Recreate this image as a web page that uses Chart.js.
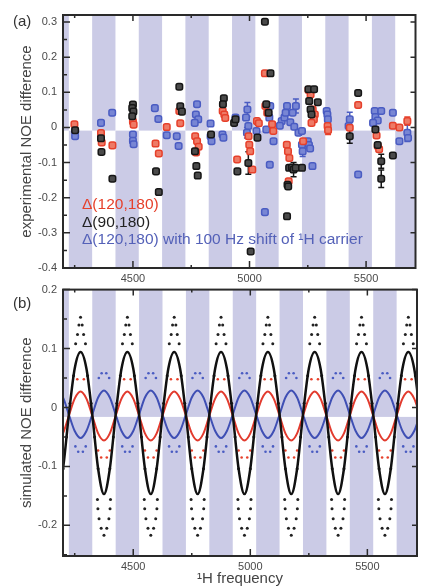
<!DOCTYPE html>
<html>
<head>
<meta charset="utf-8">
<script src="https://cdn.jsdelivr.net/npm/chart.js@4.4.0/dist/chart.umd.min.js"></script>
<style>
  body { margin: 0; background: #fff; width: 421px; height: 588px; position: relative; overflow: hidden;
         font-family: "Liberation Sans", Arial, sans-serif; }
  canvas { position: absolute; left: 0; }
  #chartA { top: 0; }
  #chartB { top: 277px; }
  .lbl { position: absolute; font-size: 15px; white-space: nowrap; line-height: 17px; }
</style>
</head>
<body>
<canvas id="chartA" width="421" height="290" style="width:421px;height:290px"></canvas>
<canvas id="chartB" width="421" height="311" style="width:421px;height:311px"></canvas>
<div class="lbl" style="left:13px;top:12px;color:#333">(a)</div>
<div class="lbl" style="left:13px;top:294px;color:#333">(b)</div>
<div class="lbl" style="left:82px;top:195px;color:#e6402b;font-size:15.5px">Δ(120,180)</div>
<div class="lbl" style="left:82px;top:213px;color:#222;font-size:15.5px">Δ(90,180)</div>
<div class="lbl" style="left:82px;top:230px;color:#5461b8;font-size:15.5px">Δ(120,180) with 100 Hz shift of ¹H carrier</div>
<script>
// shaded bands (Hz), upper half / lower half of each panel
const bandUpper = [4125, 4325, 4525, 4725, 4925, 5125, 5325, 5525]
const bandLower = [4225, 4425, 4625, 4825, 5025, 5225, 5425, 5625]
const bandWidth = 100

const xTicks = [4500, 5000, 5500]
const yTicksA = [0.3, 0.2, 0.1, 0, -0.1, -0.2, -0.3, -0.4]
const yTicksB = [0.2, 0.1, 0, -0.1, -0.2]

// panel (a): [frequency, NOE difference, error]
const expRed = [
  [4249, 0.009, 0], [4363, -0.016, 0], [4366, -0.043, 0], [4412, -0.051, 0], [4500, 0.017, 0],
  [4503, 0.008, 0], [4597, -0.046, 0], [4611, -0.074, 0], [4645, 0.001, 0], [4699, 0.047, 0],
  [4703, 0.012, 0], [4767, -0.025, 0], [4775, -0.039, 0], [4782, -0.055, 0], [4771, -0.071, 0],
  [4885, 0.047, 0], [4892, 0.037, 0], [4896, 0.027, 0], [4947, -0.091, 0], [4996, -0.025, 0],
  [4999, -0.049, 0], [5003, -0.068, 0], [5012, -0.12, 0], [5032, 0.018, 0], [5040, 0.012, 0],
  [5066, 0.154, 0], [5068, 0.061, 0], [5076, 0.042, 0], [5097, 0.009, 0], [5102, -0.01, 0],
  [5160, -0.049, 0], [5165, -0.068, 0], [5171, -0.087, 0], [5168, -0.153, 0], [5230, -0.039, 0],
  [5253, 0.107, 0], [5262, 0.094, 0], [5271, 0.051, 0], [5280, 0.037, 0], [5276, 0.023, 0],
  [5266, 0.013, 0], [5335, 0.004, 0], [5337, -0.008, 0.012], [5430, -0.001, 0], [5466, 0.064, 0],
  [5545, -0.023, 0], [5550, -0.053, 0], [5556, -0.062, 0], [5615, 0.005, 0], [5643, 0.0, 0],
  [5677, 0.018, 0.012]
]
const expBlack = [
  [4252, -0.008, 0], [4363, -0.031, 0], [4365, -0.07, 0], [4412, -0.146, 0], [4500, 0.065, 0],
  [4497, 0.055, 0], [4502, 0.045, 0], [4497, 0.032, 0], [4599, -0.125, 0], [4611, -0.184, 0],
  [4699, 0.116, 0], [4703, 0.06, 0], [4710, 0.045, 0], [4766, -0.068, 0], [4772, -0.11, 0],
  [4778, -0.137, 0], [4890, 0.083, 0], [4886, 0.066, 0], [4835, -0.02, 0], [4934, 0.013, 0],
  [4940, 0.023, 0], [4948, -0.125, 0], [4995, -0.101, 0.032], [5005, -0.353, 0], [5034, -0.029, 0],
  [5066, 0.301, 0], [5090, 0.154, 0], [5072, 0.066, 0], [5082, 0.042, 0], [5161, -0.253, 0],
  [5163, -0.163, 0], [5170, -0.115, 0], [5166, -0.168, 0], [5182, -0.114, 0], [5189, -0.12, 0.02],
  [5198, -0.115, 0], [5225, -0.115, 0], [5253, 0.109, 0], [5277, 0.109, 0], [5256, 0.075, 0],
  [5293, 0.072, 0], [5262, 0.051, 0], [5266, 0.037, 0], [5430, -0.025, 0.02], [5466, 0.098, 0],
  [5540, -0.006, 0], [5550, -0.05, 0], [5565, -0.096, 0.02], [5565, -0.146, 0.025], [5615, -0.08, 0]
]
const expBlue = [
  [4252, -0.011, 0], [4252, -0.025, 0], [4363, 0.013, 0], [4411, 0.042, 0], [4500, -0.02, 0],
  [4500, -0.038, 0], [4503, -0.048, 0], [4594, 0.055, 0], [4609, 0.024, 0], [4645, -0.022, 0],
  [4688, -0.025, 0], [4696, -0.053, 0], [4775, 0.066, 0], [4770, 0.037, 0], [4780, 0.023, 0],
  [4765, 0.013, 0], [4833, 0.011, 0], [4833, -0.025, 0], [4837, -0.039, 0], [4884, -0.02, 0],
  [4888, -0.029, 0], [4940, 0.028, 0], [4991, 0.051, 0.02], [4985, 0.028, 0], [4995, 0.004, 0],
  [4989, -0.015, 0.015], [5030, -0.01, 0], [5066, -0.241, 0], [5072, -0.006, 0], [5087, -0.106, 0],
  [5089, 0.061, 0], [5080, 0.042, 0], [5085, 0.028, 0], [5103, -0.039, 0], [5138, 0.018, 0],
  [5130, 0.005, 0], [5150, 0.028, 0], [5161, 0.061, 0], [5155, 0.042, 0], [5175, 0.015, 0],
  [5185, 0.042, 0], [5192, 0.002, 0], [5199, 0.061, 0.02], [5210, -0.015, 0], [5225, -0.01, 0],
  [5225, -0.049, 0], [5228, -0.068, 0.015], [5250, -0.039, 0], [5255, -0.05, 0], [5260, -0.06, 0],
  [5270, -0.11, 0], [5331, 0.047, 0], [5334, 0.037, 0], [5336, 0.023, 0], [5430, 0.023, 0.02],
  [5425, 0.004, 0], [5466, -0.134, 0], [5537, 0.047, 0], [5565, 0.047, 0], [5615, 0.042, 0],
  [5540, 0.03, 0], [5550, 0.02, 0], [5530, 0.013, 0], [5643, -0.039, 0], [5677, -0.015, 0.025],
  [5680, -0.03, 0]
]

// panel (b): simulated curves
const simX = [4175, 4200, 4225, 4250, 4275, 4300, 4325, 4350, 4375, 4400, 4425, 4450, 4475, 4500, 4525, 4550,
  4575, 4600, 4625, 4650, 4675, 4700, 4725, 4750, 4775, 4800, 4825, 4850, 4875, 4900, 4925, 4950,
  4975, 5000, 5025, 5050, 5075, 5100, 5125, 5150, 5175, 5200, 5225, 5250, 5275, 5300, 5325, 5350,
  5375, 5400, 5425, 5450, 5475, 5500, 5525, 5550, 5575, 5600, 5625, 5650, 5675, 5700, 5725]
const simBlack = [-0.147, -0.104, -0.012, 0.066, 0.094, 0.066, -0.012, -0.104,
  -0.147, -0.104, -0.012, 0.066, 0.094, 0.066, -0.012, -0.104,
  -0.147, -0.104, -0.012, 0.066, 0.094, 0.066, -0.012, -0.104,
  -0.147, -0.104, -0.012, 0.066, 0.094, 0.066, -0.012, -0.104,
  -0.147, -0.104, -0.012, 0.066, 0.094, 0.066, -0.012, -0.104,
  -0.147, -0.104, -0.012, 0.066, 0.094, 0.066, -0.012, -0.104,
  -0.147, -0.104, -0.012, 0.066, 0.094, 0.066, -0.012, -0.104,
  -0.147, -0.104, -0.012, 0.066, 0.094, 0.066, -0.012]
const simRed = [-0.056, -0.044, -0.014, 0.015, 0.027, 0.015, -0.014, -0.044,
  -0.056, -0.044, -0.014, 0.015, 0.027, 0.015, -0.014, -0.044,
  -0.056, -0.044, -0.014, 0.015, 0.027, 0.015, -0.014, -0.044,
  -0.056, -0.044, -0.014, 0.015, 0.027, 0.015, -0.014, -0.044,
  -0.056, -0.044, -0.014, 0.015, 0.027, 0.015, -0.014, -0.044,
  -0.056, -0.044, -0.014, 0.015, 0.027, 0.015, -0.014, -0.044,
  -0.056, -0.044, -0.014, 0.015, 0.027, 0.015, -0.014, -0.044,
  -0.056, -0.044, -0.014, 0.015, 0.027, 0.015, -0.014]
const simBlue = [0.029, 0.017, -0.012, -0.04, -0.052, -0.04, -0.012, 0.017,
  0.029, 0.017, -0.012, -0.04, -0.052, -0.04, -0.012, 0.017,
  0.029, 0.017, -0.012, -0.04, -0.052, -0.04, -0.012, 0.017,
  0.029, 0.017, -0.012, -0.04, -0.052, -0.04, -0.012, 0.017,
  0.029, 0.017, -0.012, -0.04, -0.052, -0.04, -0.012, 0.017,
  0.029, 0.017, -0.012, -0.04, -0.052, -0.04, -0.012, 0.017,
  0.029, 0.017, -0.012, -0.04, -0.052, -0.04, -0.012, 0.017,
  0.029, 0.017, -0.012, -0.04, -0.052, -0.04, -0.012]

// panel (b): simulated per-residue dots [frequency, value]
const simBlackDots = [
  [4275, .153], [4268, .14], [4282, .14], [4262, .124], [4288, .124], [4254, .108], [4296, .108],
  [4245, .054], [4305, .054], [4230, .007], [4320, .007], [4215, -.05], [4335, -.05], [4200, -.104], [4350, -.104],
  [4375, -.217], [4363, -.205], [4387, -.205], [4354, -.189], [4396, -.189], [4349, -.172], [4401, -.172], [4347, -.156], [4403, -.156],
  [4475, .153], [4468, .14], [4482, .14], [4462, .124], [4488, .124], [4454, .108], [4496, .108],
  [4445, .054], [4505, .054], [4430, .007], [4520, .007], [4415, -.05], [4535, -.05], [4400, -.104], [4550, -.104],
  [4575, -.217], [4563, -.205], [4587, -.205], [4554, -.189], [4596, -.189], [4549, -.172], [4601, -.172], [4547, -.156], [4603, -.156],
  [4675, .153], [4668, .14], [4682, .14], [4662, .124], [4688, .124], [4654, .108], [4696, .108],
  [4645, .054], [4705, .054], [4630, .007], [4720, .007], [4615, -.05], [4735, -.05], [4600, -.104], [4750, -.104],
  [4775, -.217], [4763, -.205], [4787, -.205], [4754, -.189], [4796, -.189], [4749, -.172], [4801, -.172], [4747, -.156], [4803, -.156],
  [4875, .153], [4868, .14], [4882, .14], [4862, .124], [4888, .124], [4854, .108], [4896, .108],
  [4845, .054], [4905, .054], [4830, .007], [4920, .007], [4815, -.05], [4935, -.05], [4800, -.104], [4950, -.104],
  [4975, -.217], [4963, -.205], [4987, -.205], [4954, -.189], [4996, -.189], [4949, -.172], [5001, -.172], [4947, -.156], [5003, -.156],
  [5075, .153], [5068, .14], [5082, .14], [5062, .124], [5088, .124], [5054, .108], [5096, .108],
  [5045, .054], [5105, .054], [5030, .007], [5120, .007], [5015, -.05], [5135, -.05], [5000, -.104], [5150, -.104],
  [5175, -.217], [5163, -.205], [5187, -.205], [5154, -.189], [5196, -.189], [5149, -.172], [5201, -.172], [5147, -.156], [5203, -.156],
  [5275, .153], [5268, .14], [5282, .14], [5262, .124], [5288, .124], [5254, .108], [5296, .108],
  [5245, .054], [5305, .054], [5230, .007], [5320, .007], [5215, -.05], [5335, -.05], [5200, -.104], [5350, -.104],
  [5375, -.217], [5363, -.205], [5387, -.205], [5354, -.189], [5396, -.189], [5349, -.172], [5401, -.172], [5347, -.156], [5403, -.156],
  [5475, .153], [5468, .14], [5482, .14], [5462, .124], [5488, .124], [5454, .108], [5496, .108],
  [5445, .054], [5505, .054], [5430, .007], [5520, .007], [5415, -.05], [5535, -.05], [5400, -.104], [5550, -.104],
  [5575, -.217], [5563, -.205], [5587, -.205], [5554, -.189], [5596, -.189], [5549, -.172], [5601, -.172], [5547, -.156], [5603, -.156],
  [5675, .153], [5668, .14], [5682, .14], [5662, .124], [5688, .124], [5654, .108], [5696, .108],
  [5645, .054], [5705, .054], [5630, .007], [5615, -.05], [5600, -.104]
]
const simRedDots = [
  [4261, .048], [4289, .048], [4461, .048], [4489, .048], [4661, .048], [4689, .048], [4861, .048], [4889, .048],
  [5061, .048], [5089, .048], [5261, .048], [5289, .048], [5461, .048], [5489, .048], [5661, .048], [5689, .048],
  [4350, -.073], [4400, -.073], [4363, -.085], [4387, -.085], [4550, -.073], [4600, -.073], [4563, -.085], [4587, -.085],
  [4750, -.073], [4800, -.073], [4763, -.085], [4787, -.085], [4950, -.073], [5000, -.073], [4963, -.085], [4987, -.085],
  [5150, -.073], [5200, -.073], [5163, -.085], [5187, -.085], [5350, -.073], [5400, -.073], [5363, -.085], [5387, -.085],
  [5550, -.073], [5600, -.073], [5563, -.085], [5587, -.085]
]
const simBlueDots = [
  [4365, .058], [4385, .058], [4353, .05], [4397, .05], [4565, .058], [4585, .058], [4553, .05], [4597, .05],
  [4765, .058], [4785, .058], [4753, .05], [4797, .05], [4965, .058], [4985, .058], [4953, .05], [4997, .05],
  [5165, .058], [5185, .058], [5153, .05], [5197, .05], [5365, .058], [5385, .058], [5353, .05], [5397, .05],
  [5565, .058], [5585, .058], [5553, .05], [5597, .05],
  [4265, -.075], [4285, -.075], [4253, -.066], [4297, -.066], [4465, -.075], [4485, -.075], [4453, -.066], [4497, -.066],
  [4665, -.075], [4685, -.075], [4653, -.066], [4697, -.066], [4865, -.075], [4885, -.075], [4853, -.066], [4897, -.066],
  [5065, -.075], [5085, -.075], [5053, -.066], [5097, -.066], [5265, -.075], [5285, -.075], [5253, -.066], [5297, -.066],
  [5465, -.075], [5485, -.075], [5453, -.066], [5497, -.066], [5665, -.075], [5685, -.075], [5653, -.066], [5697, -.066]
]

const fontFam = "'Liberation Sans', Arial, sans-serif"
const ink = "#2a2a2a"
Chart.defaults.font.family = fontFam

// bands, error bars, frame and inward ticks
const decor = {
  id: "decor",
  beforeDatasetsDraw(chart, args, o) {
    const { ctx, chartArea: a, scales: { x, y } } = chart
    ctx.save()
    ctx.beginPath()
    ctx.rect(a.left, a.top, a.width, a.height)
    ctx.clip()
    ctx.fillStyle = "#cbcbe6"
    const ys = y.getPixelForValue(o.split)
    bandUpper.forEach(s => {
      const x0 = x.getPixelForValue(s), x1 = x.getPixelForValue(s + bandWidth)
      ctx.fillRect(x0, a.top, x1 - x0, ys - a.top)
    })
    bandLower.forEach(s => {
      const x0 = x.getPixelForValue(s), x1 = x.getPixelForValue(s + bandWidth)
      ctx.fillRect(x0, ys, x1 - x0, a.bottom - ys)
    })
    chart.data.datasets.forEach(ds => {
      if (!ds.errs) return
      ctx.strokeStyle = ds.borderColor
      ctx.lineWidth = 1.5
      ds.data.forEach((p, i) => {
        const e = ds.errs[i]
        if (!e) return
        const px = x.getPixelForValue(p.x)
        const y0 = y.getPixelForValue(p.y - e), y1 = y.getPixelForValue(p.y + e)
        ctx.beginPath()
        ctx.moveTo(px, y0); ctx.lineTo(px, y1)
        ctx.moveTo(px - 3, y0); ctx.lineTo(px + 3, y0)
        ctx.moveTo(px - 3, y1); ctx.lineTo(px + 3, y1)
        ctx.stroke()
      })
    })
    ctx.restore()
  },
  afterDraw(chart) {
    const { ctx, chartArea: a, scales: { x, y } } = chart
    ctx.save()
    ctx.strokeStyle = ink
    ctx.lineWidth = 1.5
    const xv = x.ticks.map(t => t.value)
    const xs = xv[1] - xv[0]
    const xMinor = [xv[0] - xs / 2, ...xv.map(v => v + xs / 2)].filter(v => v > x.min && v < x.max)
    const yv = y.ticks.map(t => t.value)
    const ystep = yv[0] - yv[1]
    const yMinor = [yv[0] + ystep / 2, ...yv.map(v => v - ystep / 2)].filter(v => v > y.min && v < y.max)
    ctx.beginPath()
    xv.forEach(v => {
      const p = x.getPixelForValue(v)
      ctx.moveTo(p, a.bottom); ctx.lineTo(p, a.bottom - 7)
      ctx.moveTo(p, a.top); ctx.lineTo(p, a.top + 6)
    })
    xMinor.forEach(v => {
      const p = x.getPixelForValue(v)
      ctx.moveTo(p, a.bottom); ctx.lineTo(p, a.bottom - 3)
      ctx.moveTo(p, a.top); ctx.lineTo(p, a.top + 3)
    })
    yv.forEach(v => {
      const p = y.getPixelForValue(v)
      ctx.moveTo(a.left, p); ctx.lineTo(a.left + 7, p)
      ctx.moveTo(a.right, p); ctx.lineTo(a.right - 5, p)
    })
    yMinor.forEach(v => {
      const p = y.getPixelForValue(v)
      ctx.moveTo(a.left, p); ctx.lineTo(a.left + 4, p)
    })
    ctx.stroke()
    ctx.lineWidth = 2
    ctx.strokeRect(a.left, a.top, a.width, a.height)
    ctx.restore()
  }
}

const tickFont = { family: fontFam, size: 11 }
const fmt = v => (v === 0 ? "0" : v.toFixed(1))

function xScale(h) {
  return {
    type: "linear", min: 4200, max: 5712,
    afterBuildTicks: s => { s.ticks = xTicks.map(v => ({ value: v })) },
    afterFit: s => { s.height = h },
    grid: { display: false, drawTicks: false },
    border: { display: false },
    ticks: { font: tickFont, color: "#4a4a4a", padding: 4, maxRotation: 0, autoSkip: false, callback: v => String(v) }
  }
}
function yScale(min, max, vals, title) {
  return {
    min, max,
    afterBuildTicks: s => { s.ticks = vals.map(v => ({ value: v })) },
    afterFit: s => { s.width = 63 },
    grid: { display: false, drawTicks: false },
    border: { display: false },
    ticks: { font: tickFont, color: "#4a4a4a", padding: 6, autoSkip: false, callback: fmt },
    title: { display: true, text: title, color: "#444", font: { family: fontFam, size: 15 }, padding: { top: 18, bottom: 0 } }
  }
}

const toPts = arr => arr.map(p => ({ x: p[0], y: p[1] }))
function expSet(arr, col, fill) {
  return {
    data: toPts(arr), errs: arr.map(p => p[2]),
    pointStyle: "rectRounded", pointRadius: 3.8, borderWidth: 1.5,
    borderColor: col, backgroundColor: fill
  }
}

new Chart(document.getElementById("chartA"), {
  type: "scatter",
  data: {
    datasets: [
      expSet(expBlack, "#161616", "#4a4a4a"),
      expSet(expRed, "#e6402b", "#ee7a66"),
      expSet(expBlue, "#4a5cc2", "#7886d4")
    ]
  },
  options: {
    responsive: false, animation: false,
    layout: { padding: { top: 15, right: 3, left: 0, bottom: 0 } },
    plugins: { legend: { display: false }, tooltip: { enabled: false }, decor: { split: -0.009 } },
    scales: { x: xScale(22), y: yScale(-0.4, 0.32, yTicksA, "experimental NOE difference") }
  },
  plugins: [decor]
})

const curve = (vals, col, w) => ({
  data: simX.map((f, i) => ({ x: f, y: vals[i] })),
  showLine: true, pointRadius: 0, borderColor: col, borderWidth: w,
  cubicInterpolationMode: "monotone", backgroundColor: col
})
const dots = (arr, col, r) => ({
  data: toPts(arr), pointRadius: r, borderWidth: 0, backgroundColor: col, pointStyle: "circle"
})

new Chart(document.getElementById("chartB"), {
  type: "scatter",
  data: {
    datasets: [
      curve(simBlack, "#111111", 2.5),
      curve(simRed, "#e23b2e", 2),
      curve(simBlue, "#3f4fb4", 2),
      dots(simBlackDots, "#222222", 1.5),
      dots(simRedDots, "#e6402b", 1.3),
      dots(simBlueDots, "#4a5cc2", 1.3)
    ]
  },
  options: {
    responsive: false, animation: false,
    layout: { padding: { top: 10, right: 3, left: 0, bottom: 0 } },
    plugins: { legend: { display: false }, tooltip: { enabled: false }, decor: { split: -0.016 } },
    scales: {
      x: Object.assign(xScale(32), { title: { display: true, text: "¹H frequency", color: "#444", font: { family: fontFam, size: 15 }, padding: 0 } }),
      y: yScale(-0.252, 0.2, yTicksB, "simulated NOE difference")
    }
  },
  plugins: [decor]
})
</script>
</body>
</html>
